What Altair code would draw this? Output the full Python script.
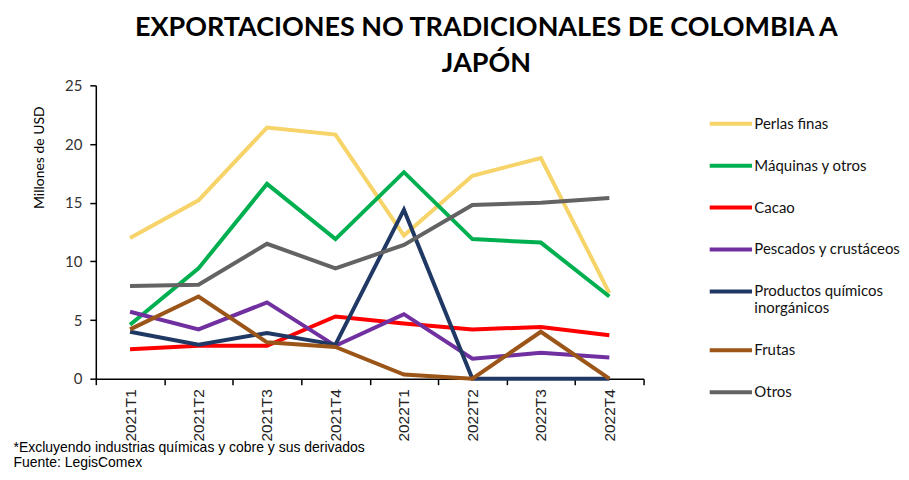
import altair as alt
import pandas as pd

periods = ["2021T1", "2021T2", "2021T3", "2021T4", "2022T1", "2022T2", "2022T3", "2022T4"]
series = ["Perlas finas", "Máquinas y otros", "Cacao", "Pescados y crustáceos",
          "Productos químicos inorgánicos", "Frutas", "Otros"]
colors = ["#F6D46A", "#00B050", "#FF0000", "#7030A0", "#203864", "#9C5518", "#636363"]

perlas = [12.0, 15.2, 21.4, 20.8, 12.2, 17.3, 18.8, 7.3]
maquinas = [4.6, 9.4, 16.6, 11.9, 17.6, 11.9, 11.6, 7.0]
cacao = [2.5, 2.8, 2.8, 5.3, 4.7, 4.2, 4.4, 3.7]
pescados = [5.7, 4.2, 6.5, 2.8, 5.5, 1.7, 2.2, 1.8]
quimicos = [4.0, 2.9, 3.9, 2.9, 14.4, 0.0, 0.0, 0.0]
frutas = [4.2, 7.0, 3.1, 2.7, 0.35, 0.0, 4.0, 0.0]
otros = [7.9, 8.0, 11.5, 9.4, 11.4, 14.8, 15.0, 15.4]

values = [perlas, maquinas, cacao, pescados, quimicos, frutas, otros]
rows = []
for s, vals in zip(series, values):
    for p, v in zip(periods, vals):
        rows.append({"periodo": p, "serie": s, "valor": v})
df = pd.DataFrame(rows)

chart = alt.Chart(df).mark_line(strokeWidth=4).encode(
    x=alt.X("periodo:N", sort=periods, bandPosition=0.5,
            scale=alt.Scale(type="band", paddingInner=0, paddingOuter=0),
            axis=alt.Axis(tickBand="extent", labelAngle=270, labelFont="Liberation Sans",
                          labelFontSize=15.5, labelColor="#222", labelPadding=4,
                          labelAlign="right", labelBaseline="middle",
                          domainColor="#000", tickColor="#000", tickSize=6, domainWidth=1.5,
                          tickWidth=1.5,
                          title=["*Excluyendo industrias químicas y cobre y sus derivados",
                                 " Fuente: LegisComex"],
                          titleFont="Liberation Sans", titleFontSize=14, titleFontWeight="normal",
                          titleColor="#000", titleAnchor="start", titleAlign="left",
                          titleX=-83, titleY=62, titleBaseline="top", titleLineHeight=15)),
    y=alt.Y("valor:Q", scale=alt.Scale(domain=[0, 25]),
            axis=alt.Axis(values=[0, 5, 10, 15, 20, 25], grid=False, labelFont="Lato",
                          labelFontSize=15, labelColor="#333", labelPadding=8,
                          domainColor="#000", tickColor="#000", tickSize=6, domainWidth=1.5,
                          tickWidth=1.5,
                          title="Millones de USD", titleFont="Lato", titleFontSize=14,
                          titleFontWeight="normal", titleColor="#000", titleX=-56, titleY=72,
                          titleAngle=270, titleAlign="center", titleBaseline="middle")),
    color=alt.Color("serie:N", sort=series,
                    scale=alt.Scale(domain=series, range=colors),
                    legend=alt.Legend(title=None, orient="none", legendX=613, legendY=15,
                                      symbolType="stroke", symbolStrokeWidth=4,
                                      symbolSize=1800, labelFont="Lato", labelFontSize=15,
                                      labelColor="#111", labelOffset=0, rowPadding=10,
                                      labelLimit=220,
                                      labelExpr="datum.label == 'Productos químicos inorgánicos' ? ['Productos químicos', 'inorgánicos'] : datum.label")),
    order=alt.value(0),
).properties(
    width=549, height=294,
    title=alt.TitleParams(["EXPORTACIONES NO TRADICIONALES DE COLOMBIA A", "JAPÓN"],
                          font="Lato", fontSize=27, fontWeight="bold", color="#000",
                          anchor="middle", frame="group", dx=117, lineHeight=36, offset=0),
    padding={"left": 5, "top": 6, "right": 0, "bottom": 0},
).configure_view(stroke=None)

chart.save("out.html", embed_options={"renderer": "svg", "actions": False})
